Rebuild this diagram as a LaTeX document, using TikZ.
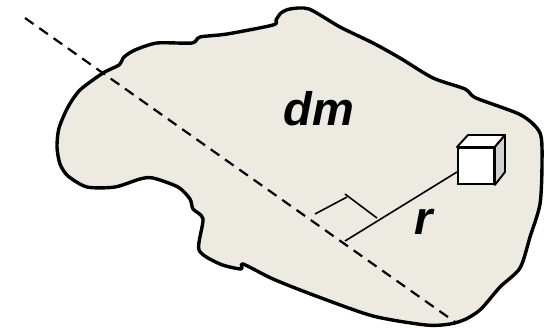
\documentclass[tikz,border=0pt]{standalone}
\usepackage{fontspec}
\setmainfont{Liberation Sans}
\usetikzlibrary{positioning}
\definecolor{bodyfill}{RGB}{237,235,225}
\definecolor{cubeside}{RGB}{208,208,208}

\begin{document}
\begin{tikzpicture}[
            x=1pt, y=-1pt,
            bodyline/.style={draw=black, line width=3.4pt, fill=bodyfill, line join=round},
            axisline/.style={draw=black, line width=2.2pt, dash pattern=on 10.5pt off 7pt},
            thinline/.style={draw=black, line width=1.6pt},
            cubeline/.style={draw=black, line width=1.9pt, line join=round},
            masslabel/.style={inner sep=0pt, font=\fontsize{47}{47}\selectfont\bfseries\itshape},
            ]
            \useasboundingbox (0,0) rectangle (545,327);

            % outline of the body
            \draw[bodyline] plot[smooth cycle, tension=0.45] coordinates {
                (57,147) (59,128) (68,107) (80,90) (103,73) (119,65) (124,57) (135,50)
                (157,43) (192,43) (200,37) (227,34) (273,25) (276,20) (281,13) (290,9)
                (309,9) (340,27) (373,43) (400,58) (433,78) (465,89) (476,98) (521,115)
                (540,133) (542,163) (540,204) (530,237) (520,268) (500,287) (481,309)
                (466,319) (450,324) (426,325) (373,316) (316,296) (273,279) (243,264)
                (241,269) (220,264) (199,250) (203,219) (193,209) (190,199) (178,187)
                (153,178) (140,179) (115,187) (87,187) (68,176) (60,164)};

            \coordinate (axisa) at (25,18);
            \coordinate (axisb) at (455,322);
            \coordinate (foot)  at (345,241);
            \coordinate (cubejoin) at (457,172);
            \coordinate (marka) at (315,214);
            \coordinate (markb) at (347,197);
            \coordinate (markc) at (345,194);
            \coordinate (markd) at (377,218);
            \coordinate (topa) at (468,135);
            \coordinate (topb) at (505,135);
            \coordinate (sidea) at (505,172);

            \draw[axisline] (axisa) -- (axisb);
            \draw[thinline] (foot) -- (cubejoin);
            \draw[thinline] (marka) -- (markb);
            \draw[thinline] (markc) -- (markd);

            % small cube
            \node[draw=black, line width=1.9pt, fill=white, minimum size=36pt, inner sep=0pt, anchor=north west] (cube) at (457,147) {};
            \draw[cubeline, fill=white] (cube.north west) -- (topa) -- (topb) -- (cube.north east) -- cycle;
            \draw[cubeline, fill=cubeside] (cube.north east) -- (topb) -- (sidea) -- (cube.south east) -- cycle;

            \node[masslabel, anchor=base] (dm) at (319,125) {dm};
            \node[masslabel, anchor=base] (r)  at (424,234) {r};
\end{tikzpicture}
\end{document}
